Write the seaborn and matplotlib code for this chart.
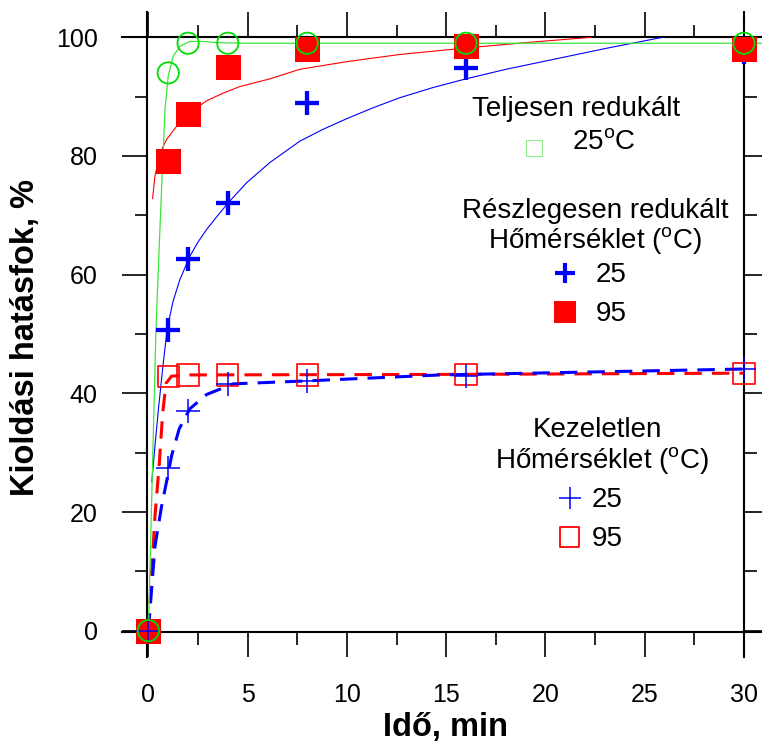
import numpy as np
import pandas as pd
import matplotlib
matplotlib.use("Agg")
import matplotlib.pyplot as plt
from matplotlib.ticker import MultipleLocator
import seaborn as sns

# ---------------- data ----------------
time_min = [0, 1, 2, 4, 8, 16, 30]
full_25 = [0, 94.0, 99.0, 99.0, 99.0, 99.0, 99.0]          # Teljesen redukált 25 °C
part_25 = [0, 50.7, 62.7, 72.0, 89.0, 94.9, 97.6]          # Részlegesen redukált 25 °C
part_95 = [0, 79.2, 87.0, 95.0, 98.0, 98.5, 98.1]          # Részlegesen redukált 95 °C
untr_25 = [0, 27.4, 37.1, 41.6, 42.0, 43.0, 44.1]          # Kezeletlen 25 °C
untr_95 = [0, 42.8, 43.1, 43.1, 43.1, 43.2, 43.4]          # Kezeletlen 95 °C

# fitted curves
fit_full_t = [0, 0.38, 0.58, 0.72, 0.84, 1.0, 1.25, 1.59, 2.09, 2.76, 3.44, 5.0, 30.9]
fit_full_y = [0, 50.7, 67.6, 78.9, 87.9, 93.5, 96.8, 98.5, 99.3, 99.3, 99.1, 99.0, 99.0]

fit_p95_t = [0.21, 0.33, 0.58, 0.92, 1.42, 2.09, 2.93, 3.77, 4.61, 6.12, 7.62, 10.0, 12.65, 16.0, 19.0, 22.3]
fit_p95_y = [72.8, 76.6, 80.5, 82.8, 85.0, 87.3, 89.3, 90.6, 91.7, 93.0, 94.6, 95.9, 97.1, 98.2, 99.1, 100.0]

fit_p25_t = [0.17, 0.35, 0.52, 0.72, 0.95, 1.25, 1.59, 2.09, 2.5, 2.93, 3.5, 4.02, 4.95, 6.12, 7.63,
             8.8, 10.0, 11.3, 12.65, 14.3, 16.0, 18.0, 20.0, 23.0, 25.9]
fit_p25_y = [25.1, 31.8, 37.8, 44.2, 51.0, 55.6, 59.2, 63.1, 65.5, 67.6, 70.0, 72.1, 75.5, 78.9, 82.5,
             84.5, 86.3, 88.1, 89.8, 91.5, 93.0, 94.6, 96.0, 98.1, 100.0]

fit_u95_t = [0, 0.17, 0.33, 0.55, 0.72, 0.89, 1.17, 2.09, 16.0, 30.0]
fit_u95_y = [0, 10.2, 19.2, 28.2, 36.7, 41.7, 42.9, 43.1, 43.2, 43.4]

fit_u25_t = [0, 0.33, 0.66, 0.92, 1.17, 1.55, 2.09, 2.93, 4.27, 8.0, 14.7, 30.0]
fit_u25_y = [0, 14.2, 20.9, 25.2, 29.5, 34.0, 37.4, 39.8, 41.6, 42.1, 43.1, 44.1]

x_ticks = [0, 5, 10, 15, 20, 25, 30]
y_ticks = [0, 20, 40, 60, 80, 100]
x_label = "Idő, min"
y_label = "Kioldási hatásfok, %"

# ---------------- style ----------------
sns.set_style("white")
plt.rcParams["font.family"] = ["Liberation Sans", "DejaVu Sans"]
plt.rcParams["mathtext.fontset"] = "custom"
plt.rcParams["mathtext.rm"] = "Liberation Sans"
plt.rcParams["mathtext.it"] = "Liberation Sans:italic"
plt.rcParams["mathtext.bf"] = "Liberation Sans:bold"
plt.rcParams["text.color"] = "black"
plt.rcParams["axes.labelcolor"] = "black"

RED = "#ff0000"
BLUE = "#0000ff"
GREEN = "#00dd00"
GREEN_LINE = "#3ae63a"

fig = plt.figure(figsize=(7.62, 7.44), dpi=100)
W, H = 762, 744
L, R, T, B = 147, 744, 37.3, 632
ax = fig.add_axes([L / W, 1 - B / H, (R - L) / W, (B - T) / H])

# ---------------- curves ----------------
sns.lineplot(x=fit_u95_t, y=fit_u95_y, ax=ax, color=RED, lw=2.2,
             linestyle=(0, (5.7, 3.3)), estimator=None, sort=False, zorder=2)
sns.lineplot(x=fit_u25_t, y=fit_u25_y, ax=ax, color=BLUE, lw=2.2,
             linestyle=(0, (5.7, 3.3)), estimator=None, sort=False, zorder=2)
sns.lineplot(x=fit_p95_t, y=fit_p95_y, ax=ax, color=RED, lw=0.8,
             estimator=None, sort=False, zorder=2)
sns.lineplot(x=fit_p25_t, y=fit_p25_y, ax=ax, color=BLUE, lw=0.8,
             estimator=None, sort=False, zorder=2)
sns.lineplot(x=fit_full_t, y=fit_full_y, ax=ax, color=GREEN_LINE, lw=0.9,
             estimator=None, sort=False, zorder=2, clip_on=False)

# ---------------- markers ----------------
sns.scatterplot(x=time_min, y=part_25, ax=ax, marker="+", s=17.8 ** 2,
                color=BLUE, linewidth=3.1, zorder=3, clip_on=False)
sns.scatterplot(x=time_min, y=part_95, ax=ax, marker="s", s=18 ** 2,
                color=RED, edgecolor=RED, linewidth=0, zorder=4, clip_on=False)
sns.scatterplot(x=time_min, y=untr_95, ax=ax, marker="s", s=15.3 ** 2,
                color=RED, facecolor="none", edgecolor=RED, linewidth=1.2, zorder=4, clip_on=False)
sns.scatterplot(x=time_min, y=untr_25, ax=ax, marker="+", s=17.3 ** 2,
                color=BLUE, linewidth=1.1, zorder=5, clip_on=False)
sns.scatterplot(x=time_min, y=full_25, ax=ax, marker="o", s=15.3 ** 2,
                color=GREEN, facecolor="none", edgecolor=GREEN, linewidth=1.3, zorder=6, clip_on=False)

# ---------------- axes ----------------
ax.set_xlim(-0.07, 30)
ax.set_ylim(-0.22, 100)
ax.set_xticks(x_ticks)
ax.set_yticks(y_ticks)
ax.xaxis.set_minor_locator(MultipleLocator(2.5))
ax.yaxis.set_minor_locator(MultipleLocator(10))
ax.grid(False)

for side, sp in ax.spines.items():
    sp.set_visible(True)
    sp.set_color("black")
    sp.set_linewidth(1.5)
    sp.set_zorder(1)
ax.spines["bottom"].set_bounds(-1.34, 31.3)
ax.spines["top"].set_bounds(-1.34, 31.3)
ax.spines["left"].set_bounds(-4.43, 104.2)
ax.spines["right"].set_bounds(-4.43, 104.2)

ax.tick_params(which="both", direction="out", bottom=True, top=True, left=True, right=True,
               labelbottom=True, labelleft=True, labeltop=False, labelright=False,
               width=1.2, color="black", labelcolor="black", labelsize=18)
ax.tick_params(which="major", length=18)
ax.tick_params(which="minor", length=9)
ax.tick_params(axis="x", which="major", pad=18.5)
ax.tick_params(axis="y", which="major", pad=17.5)

ax.set_xlabel(x_label, fontsize=23.5, fontweight="bold", color="black")
ax.set_ylabel(y_label, fontsize=23.5, fontweight="bold", color="black")
ax.xaxis.set_label_coords(0.5, -0.134)
ax.yaxis.set_label_coords(-0.178, 0.496)

# ---------------- legend (text blocks + keys) ----------------
def fx(px):
    return (px - L) / (R - L)

def fy(py):
    return (B - py) / (B - T)

tkw = dict(transform=ax.transAxes, fontsize=20, color="black", va="baseline")
ax.text(fx(576), fy(116), "Teljesen redukált", ha="center", **tkw)
ax.text(fx(571.7), fy(149.3), r"25$^{\rm o}$C", ha="left", **tkw)
ax.scatter([fx(534)], [fy(148)], transform=ax.transAxes, marker="s", s=11 ** 2,
           facecolor="none", edgecolor="#90ee90", linewidth=0.8, clip_on=False, zorder=7)

ax.text(fx(595), fy(218.3), "Részlegesen redukált", ha="center", **tkw)
ax.text(fx(595), fy(248), r"Hőmérséklet ($^{\rm o}$C)", ha="center", **tkw)
ax.scatter([fx(564.5)], [fy(273.3)], transform=ax.transAxes, marker="+", s=15 ** 2,
           color=BLUE, linewidth=3.0, clip_on=False, zorder=7)
ax.text(fx(596), fy(282.3), "25", ha="left", **tkw)
ax.scatter([fx(564.5)], [fy(311.5)], transform=ax.transAxes, marker="s", s=15.5 ** 2,
           color=RED, linewidth=0, clip_on=False, zorder=7)
ax.text(fx(596), fy(320.7), "95", ha="left", **tkw)

ax.text(fx(597.7), fy(436.7), "Kezeletlen", ha="center", **tkw)
ax.text(fx(601.7), fy(467.7), r"Hőmérséklet ($^{\rm o}$C)", ha="center", **tkw)
ax.scatter([fx(569.5)], [fy(497.5)], transform=ax.transAxes, marker="+", s=15.5 ** 2,
           color=BLUE, linewidth=1.1, clip_on=False, zorder=7)
ax.text(fx(591.7), fy(506.7), "25", ha="left", **tkw)
ax.scatter([fx(569.5)], [fy(537)], transform=ax.transAxes, marker="s", s=14 ** 2,
           facecolor="none", edgecolor=RED, linewidth=1.3, clip_on=False, zorder=7)
ax.text(fx(591.7), fy(545.7), "95", ha="left", **tkw)

leg = ax.get_legend()
if leg is not None:
    leg.remove()

fig.savefig("out.png", dpi=100, facecolor="white")
